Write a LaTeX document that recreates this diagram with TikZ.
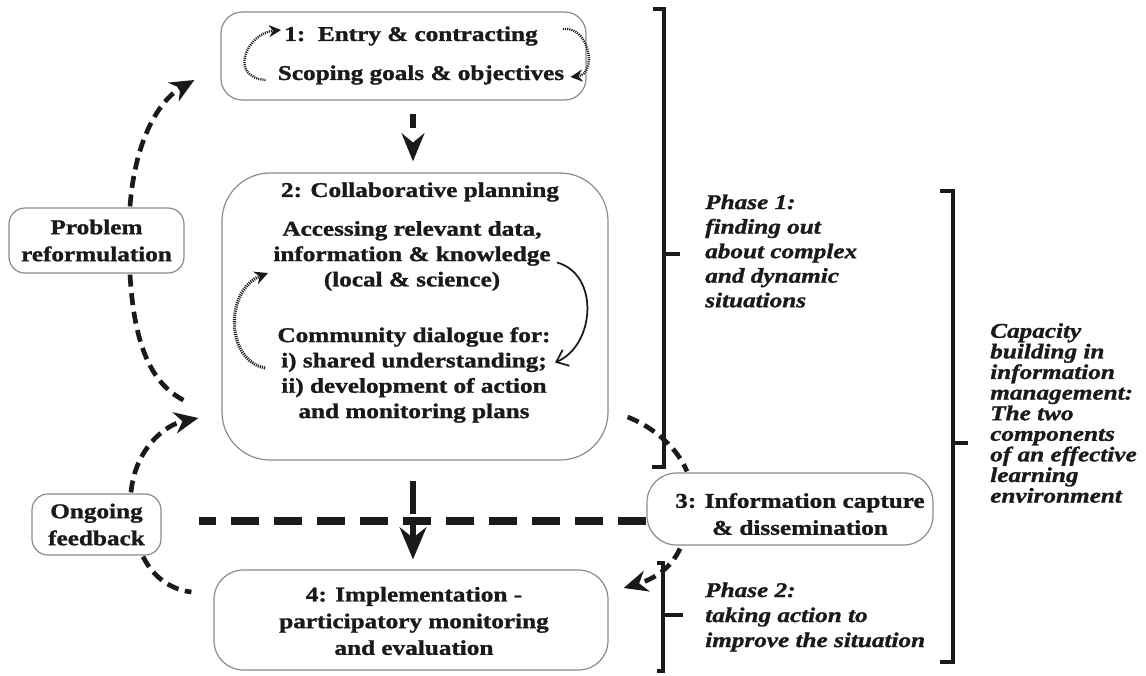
\documentclass[tikz,border=0pt]{standalone}
\usepackage{fontspec}
\setmainfont{Liberation Serif}[
  FakeStretch=1.2,
  BoldFont={Liberation Serif Bold},
  BoldItalicFont={Liberation Serif Bold Italic},
  BoldFeatures={FakeBold=1.2},
  BoldItalicFeatures={FakeBold=1.2}]
\usetikzlibrary{arrows.meta,calc}
\definecolor{ink}{HTML}{1A1A1A}
\definecolor{edge}{HTML}{8C8C8C}

\begin{document}
\begin{tikzpicture}[x=0.75pt,y=-0.75pt,
  box/.style={draw=edge,line width=0.9pt,fill=white,inner sep=0pt},
  lbl/.style={text=ink,align=center,inner sep=0pt,font=\fontsize{15.75}{19}\selectfont\bfseries},
  widelbl/.style={lbl,font=\fontsize{15.75}{20.25}\selectfont\bfseries},
  note/.style={text=ink,align=left,inner sep=0pt,anchor=west,font=\fontsize{15.75}{18.4}\selectfont\bfseries\itshape},
  flow/.style={draw=ink,line width=3.5pt,dash pattern=on 9pt off 5pt},
  heavy/.style={draw=ink,line width=6pt,dash pattern=on 21pt off 11.25pt},
  bigtip/.style={-{Stealth[length=18pt,width=16pt]}},
  loopdot/.style={draw=ink,line width=1.8pt,dash pattern=on 0.8pt off 0.8pt},
  bracket/.style={draw=ink,line width=2.8pt,line join=miter}
]
\useasboundingbox (0,0) rectangle (1146,675);

% the four stages and the two side boxes
\node[box,rounded corners=16pt,minimum width=273.75pt,minimum height=66pt] (b1) at (403.5,56) {};
\node[box,rounded corners=36pt,minimum width=289.5pt,minimum height=215.25pt] (b2) at (415,316.5) {};
\node[box,rounded corners=22pt,minimum width=214.5pt,minimum height=54pt] (b3) at (790,509) {};
\node[box,rounded corners=22pt,minimum width=295.5pt,minimum height=75pt] (b4) at (411,620) {};
\node[box,widelbl,rounded corners=12pt,minimum width=131.25pt,minimum height=48.75pt] (pr) at (96.5,240.5) {Problem\\reformulation};
\node[box,widelbl,rounded corners=12pt,minimum width=96.75pt,minimum height=45.75pt] (of) at (96.5,524.5) {Ongoing\\feedback};

% stage texts
\node[lbl] (t1a) at (411,36) {1:\ \ Entry \& contracting};
\node[lbl] (t1b) at (421,75) {Scoping goals \& objectives};
\node[lbl] (t2) at (420,192) {2: Collaborative planning};
\node[lbl] (t2a) at (412,256) {Accessing relevant data,\\information \& knowledge\\(local \& science)};
\node[lbl] (t2b) at (414,375) {Community dialogue for:\\i) shared understanding;\\ii) development of action\\and monitoring plans};
\node[widelbl] (t3) at (800,514) {3: Information capture\\\& dissemination};
\node[lbl,font=\fontsize{15.75}{20}\selectfont\bfseries] (t4) at (414,621) {4: Implementation -\\participatory monitoring\\and evaluation};

% main flow
\draw[draw=ink,line width=3.8pt,dash pattern=on 10.5pt off 20pt,-{Stealth[length=21pt,width=17pt]}]
  ($(b1.south)+(9.5,13)$) -- ($(b2.north)+(-2,-11)$);
\draw[heavy] ($(b3.west)+(0,12)$) -- ($(of.east)+(37,-3.5)$);
\draw[draw=ink,line width=4.5pt,dash pattern=on 24.75pt off 6pt,-{Stealth[length=24pt,width=20pt]}]
  ($(b2.south)+(-2,20)$) -- ($(b4.north)+(2,-10)$);

% feedback loops on the left
\draw[flow,bigtip] ($(pr.north)+(33.5,-1)$) .. controls +(5,-67) and +(-35,20) .. ($(b1.west)+(-26,24)$);
\draw[flow] ($(pr.south)+(33.5,1)$) .. controls +(5,86) and +(-30,-13) .. ($(b2.west)+(-32,86.5)$);
\draw[flow,bigtip] ($(of.north)+(34.5,-1)$) .. controls +(4,-43) and +(-34,7) .. ($(b2.west)+(-23,101.5)$);
\draw[flow] ($(of.south)+(46.5,1)$) .. controls +(12,24) and +(-17,-2) .. ($(b4.west)+(-22,-28)$);

% information capture links
\draw[flow] ($(b2.east)+(19,100.5)$) .. controls +(28,11) and +(-9,-22) .. ($(b3.north)+(-103,-1)$);
\draw[flow,bigtip] ($(b3.south)+(-110,3)$) .. controls +(-10,22) and +(27,-8) .. ($(b4.east)+(15,-32)$);

% small loops inside stages 1 and 2
\draw[loopdot,-{Stealth[length=9pt,width=9pt]}]
  ($(t1b.west)+(-12,5)$) .. controls +(-38,-3) and +(-34,3) .. ($(t1a.west)+(-3,-6)$);
\draw[loopdot,-{Stealth[length=9pt,width=9pt]}]
  ($(t1a.east)+(25,-7)$) .. controls +(27,-3) and +(27,-3) .. ($(t1b.east)+(6,2)$);
\draw[draw=ink,line width=1.3pt,-{Straight Barb[length=8pt,width=13pt]}]
  ($(b2.center)+(142,-54)$) .. controls +(43,12) and +(40,-17) .. ($(b2.center)+(140,46)$);
\draw[loopdot,line width=2.4pt,-{Stealth[length=10pt,width=10pt]}]
  ($(b2.center)+(-150,51.5)$) .. controls +(-40,-8) and +(-43,17) .. ($(b2.center)+(-147,-43.5)$);

% phase brackets
\draw[bracket] (653,9) -- (664,9) -- (664,467) -- (652,467);
\draw[bracket] (664,254) -- (680,254);
\draw[bracket] (657,563) -- (663,563) -- (663,671) -- (657,671);
\draw[bracket] (663,615) -- (683,615);
\draw[bracket] (940,191) -- (953,191) -- (953,662) -- (940,662);
\draw[bracket] (953,443) -- (968,443);

% bracket captions
\node[note] (p1) at (705,251) {Phase 1:\\finding out\\about complex\\and dynamic\\situations};
\node[note,font=\fontsize{15.75}{18.75}\selectfont\bfseries\itshape] (p2) at (705,617) {Phase 2:\\taking action to\\improve the situation};
\node[note,font=\fontsize{15.75}{15.45}\selectfont\bfseries\itshape] (cap) at (990,413) {Capacity\\building in\\information\\management:\\The two\\components\\of an effective\\learning\\environment};
\end{tikzpicture}
\end{document}
